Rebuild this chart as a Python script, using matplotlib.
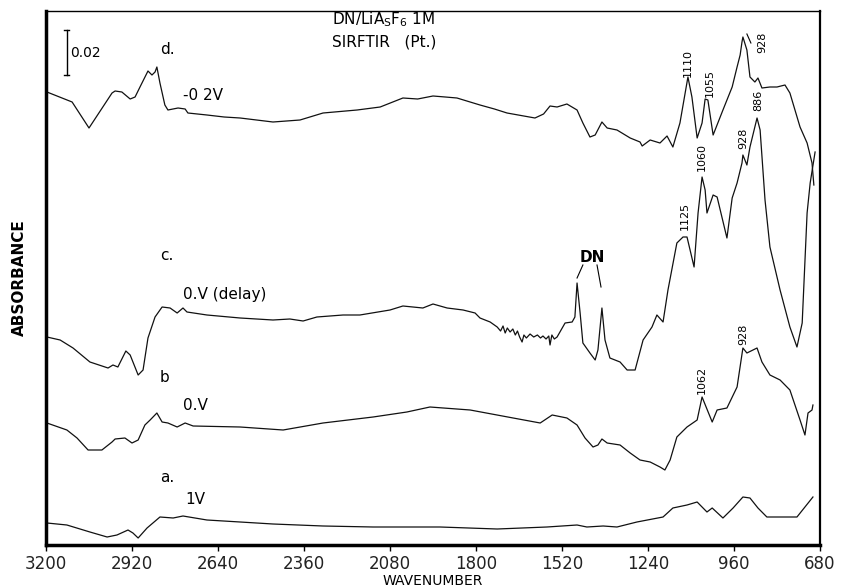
import numpy as np
import matplotlib
matplotlib.use("Agg")
import matplotlib.pyplot as plt

# SIRFTIR spectra of DN / LiAsF6 1M on Pt.
# vertical unit: 45 units = 0.02 absorbance (the scale bar)

# --- trace d  (-0.2 V)
wn_d = [3197, 3115, 3060, 2985, 2975, 2953, 2926, 2910, 2894, 2868, 2855, 2845, 2839, 2829,
        2813, 2803, 2770, 2747, 2738, 2676, 2620, 2568, 2461, 2373, 2298, 2187, 2112, 2038,
        1990, 1940, 1900, 1862, 1787, 1740, 1699, 1608, 1580, 1559, 1536, 1504, 1471, 1452, 1429,
        1412, 1390, 1373, 1341, 1298, 1266, 1259, 1233, 1201, 1178, 1159, 1136, 1110,
        1097, 1080, 1064, 1054, 1045, 1028, 996, 966, 950, 940, 934, 931, 918, 908, 892,
        882, 869, 843, 820, 794, 778, 745, 722, 706, 700]
ab_d = [453, 443, 417, 452, 454, 453, 446, 448, 458, 474, 470, 473, 478, 462,
        440, 435, 437, 436, 432, 430, 428, 427, 423, 425, 432, 435, 438, 447,
        446, 449, 448, 447, 440, 436, 432, 427, 431, 439, 438, 441, 435, 422, 408,
        410, 423, 417, 415, 407, 403, 399, 405, 402, 409, 398, 422, 468,
        448, 407, 422, 446, 445, 410, 435, 458, 478, 490, 503, 508, 495, 468, 463,
        467, 457, 458, 458, 460, 452, 418, 402, 382, 360]

# --- trace c  (0 V, delay)
wn_c = [3197, 3154, 3112, 3057, 2998, 2982, 2966, 2940, 2926, 2900, 2884, 2868, 2845,
        2822, 2796, 2773, 2754, 2741, 2676, 2568, 2461, 2406, 2363, 2318, 2233, 2178,
        2080, 2038, 1973, 1940, 1894, 1842, 1803, 1787, 1754, 1731, 1720, 1712, 1705,
        1698, 1689, 1680, 1672, 1665, 1658, 1650, 1644, 1636, 1624, 1612, 1600, 1590,
        1582, 1572, 1563, 1559, 1553, 1545, 1536, 1510, 1487, 1478, 1471, 1461, 1452,
        1429, 1412, 1403, 1390, 1380, 1364, 1331, 1308, 1282, 1256, 1227, 1211, 1191,
        1175, 1146, 1126, 1113, 1103, 1090, 1077, 1064, 1054, 1048, 1028, 1015, 983,
        966, 950, 934, 931, 918, 908, 885, 875, 859, 843, 810, 778, 755, 738, 722,
        712, 696]
ab_c = [208, 205, 197, 183, 177, 180, 178, 194, 190, 170, 175, 207, 228,
        238, 237, 232, 237, 233, 230, 227, 225, 226, 224, 228, 230, 230,
        235, 239, 237, 241, 237, 235, 232, 227, 223, 218, 214, 219, 212,
        217, 213, 216, 210, 214, 208, 203, 210, 207, 211, 208, 210, 207,
        209, 206, 209, 200, 210, 206, 208, 222, 223, 228, 262, 232, 202,
        192, 185, 195, 237, 205, 187, 183, 175, 175, 205, 218, 230, 223,
        255, 302, 308, 308, 295, 278, 332, 368, 355, 332, 350, 348, 307,
        347, 362, 382, 390, 380, 398, 427, 415, 345, 298, 255, 218, 198, 222, 332,
        362, 393]

# --- trace b  (0 V)
wn_b = [3197, 3132, 3099, 3063, 3018, 2985, 2975, 2943, 2920, 2900, 2878, 2861, 2839,
        2822, 2803, 2773, 2747, 2721, 2568, 2428, 2298, 2135, 2025, 1950, 1819, 1679,
        1591, 1552, 1504, 1471, 1445, 1419, 1403, 1390, 1373, 1331, 1298, 1266, 1233,
        1201, 1185, 1168, 1146, 1113, 1080, 1064, 1031, 1015, 983, 950, 931, 918, 885,
        869, 843, 810, 778, 745, 729, 719, 706, 703]
ab_b = [122, 115, 107, 95, 95, 103, 106, 107, 102, 105, 120, 125, 132,
        123, 122, 118, 122, 119, 118, 115, 122, 128, 133, 138, 135, 127,
        122, 130, 127, 120, 107, 98, 100, 106, 102, 100, 92, 85, 83,
        78, 75, 85, 108, 118, 125, 148, 123, 135, 137, 158, 197, 192, 197,
        183, 170, 165, 155, 125, 110, 132, 135, 140]

# --- trace a  (1 V)
wn_a = [3197, 3132, 3057, 3001, 2969, 2933, 2917, 2900, 2871, 2829, 2786, 2754, 2676,
        2568, 2461, 2298, 2135, 1917, 1731, 1569, 1471, 1439, 1386, 1341, 1276, 1191,
        1159, 1113, 1080, 1048, 1031, 996, 963, 931, 908, 882, 853, 810, 755, 729, 703]
ab_a = [22, 20, 13, 8, 10, 15, 12, 7, 17, 28, 27, 29, 25,
        23, 21, 19, 18, 18, 16, 18, 20, 18, 19, 18, 23, 28,
        37, 40, 43, 33, 37, 27, 37, 48, 47, 37, 28, 28, 28, 38, 48]

x_ticks = [3200, 2920, 2640, 2360, 2080, 1800, 1520, 1240, 960, 680]

# peak labels: (text, wavenumber, height)
peak_labels = [("1110", 1110, 482), ("1055", 1038, 462), ("928", 869, 503),
               ("886", 882, 445), ("928", 931, 407), ("1060", 1064, 388),
               ("1125", 1120, 329), ("1062", 1064, 165), ("928", 931, 211)]

fig = plt.figure(figsize=(8.54, 5.88), dpi=100)
ax = fig.add_axes([46/854, 43/588, 774/854, 534/588])

for wn, ab in [(wn_d, ab_d), (wn_c, ab_c), (wn_b, ab_b), (wn_a, ab_a)]:
    ax.plot(wn, ab, color="#111111", lw=0.9)

ax.set_xlim(3200, 680)
ax.set_ylim(0, 534)
ax.set_xticks(x_ticks)
ax.set_xticklabels([str(t) for t in x_ticks], fontsize=12, color="#222222")
ax.set_yticks([])
ax.tick_params(axis="x", direction="out", length=4, width=1, pad=3)
ax.spines["left"].set_linewidth(2.5)
ax.spines["bottom"].set_linewidth(2.5)
ax.spines["top"].set_linewidth(1.0)
ax.spines["right"].set_linewidth(1.6)

ax.set_xlabel("WAVENUMBER", fontsize=10, labelpad=1)
ax.set_ylabel("ABSORBANCE", fontsize=11, fontweight="bold", labelpad=14)

# scale bar
ax.plot([3132, 3132], [470, 515], color="black", lw=1)
ax.plot([3140, 3124], [515, 515], color="black", lw=1)
ax.plot([3140, 3124], [470, 470], color="black", lw=1)
ax.text(3120, 492, "0.02", fontsize=10, va="center", ha="left")

# trace labels
tk = dict(fontsize=11, va="center", ha="left")
ax.text(2829, 495, "d.", **tk)
ax.text(2754, 450, "-0 2V", **tk)
ax.text(2829, 290, "c.", **tk)
ax.text(2754, 250, "0.V (delay)", **tk)
ax.text(2829, 167, "b", **tk)
ax.text(2754, 140, "0.V", **tk)
ax.text(2829, 68, "a.", **tk)
ax.text(2747, 45, "1V", **tk)

ax.text(2270, 525, r"DN/LiA$_\mathregular{S}$F$_\mathregular{6}$ 1M", fontsize=11, va="center", ha="left")
ax.text(2270, 503, "SIRFTIR   (Pt.)", fontsize=11, va="center", ha="left")

# DN doublet
ax.text(1422, 288, "DN", fontsize=11, fontweight="bold", va="center", ha="center")
ax.plot([1452, 1471], [280, 267], color="black", lw=0.8)
ax.plot([1406, 1393], [280, 258], color="black", lw=0.8)

for txt, wn, h in peak_labels:
    ax.text(wn, h, txt, fontsize=8, rotation=90, va="center", ha="center")
ax.plot([918, 905], [511, 502], color="black", lw=0.8)

fig.savefig("out.png", dpi=100)
